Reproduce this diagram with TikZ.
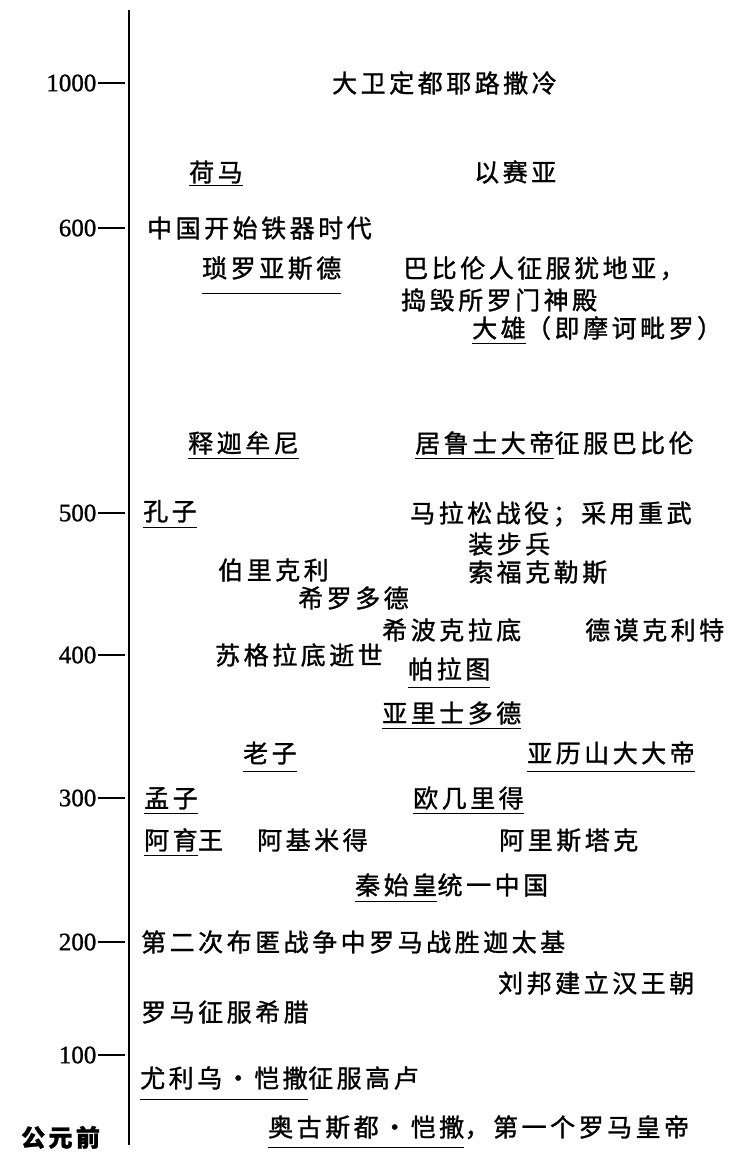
\documentclass[tikz,border=0pt]{standalone}
\usepackage{fontspec}
\newfontfamily\cjk[LetterSpace=14, FakeBold=1.2]{Noto Sans CJK SC}
\newfontfamily\yrfont[FakeBold=1]{Liberation Serif}
\usetikzlibrary{positioning}
\begin{document}
\begin{tikzpicture}[x=1pt, y=-1pt,
		ev/.style={anchor=west, inner sep=0pt, text height=21pt, text depth=2pt, font=\cjk\fontsize{25}{28}\selectfont},
		yr/.style={left, inner sep=1pt, font=\yrfont\fontsize{25}{28}\selectfont},
		ul/.style={line width=1.4pt}]
		\useasboundingbox (0,0) rectangle (731,1152);

		%axis
		\coordinate (axtop) at (129,10);
		\coordinate (axbot) at (129,1145);
		\draw[line width=1.1pt] (axtop) -- (axbot);

		\draw[line width=1.3pt] (125,83) -- (98,83) node[yr] (y1000) {1000};
		\draw[line width=1.3pt] (125,228) -- (98,228) node[yr] (y600) {600};
		\draw[line width=1.3pt] (125,513) -- (98,513) node[yr] (y500) {500};
		\draw[line width=1.3pt] (125,655) -- (98,655) node[yr] (y400) {400};
		\draw[line width=1.3pt] (125,798) -- (98,798) node[yr] (y300) {300};
		\draw[line width=1.3pt] (125,942) -- (98,942) node[yr] (y200) {200};
		\draw[line width=1.3pt] (125,1055) -- (98,1055) node[yr] (y100) {100};
		\node[ev, font=\cjk\bfseries\fontsize{24}{27}\selectfont] (bc) at (21,1137) {公元前};

		%events
		\node[ev] (david) at (332,83) {大卫定都耶路撒冷};
		\node[ev] (homer) at (189,172) {荷马};
		\node[ev] (isaiah) at (474,172) {以赛亚};
		\node[ev] (ironage) at (147,228) {中国开始铁器时代};
		\node[ev] (zoroaster) at (202,268) {琐罗亚斯德};
		\node[ev] (babylon) at (403,268) {巴比伦人征服犹地亚，};
		\node[ev] (babylon2) at (401,300) {捣毁所罗门神殿};
		\node[ev] (mahavira) at (472,328) {大雄};
		\node[ev, right=0pt of mahavira] (mahavira2) {（即摩诃毗罗）};

		\node[ev] (buddha) at (188,443) {释迦牟尼};
		\node[ev] (cyrus) at (415,443) {居鲁士大帝};
		\node[ev, right=0pt of cyrus] (cyrus2) {征服巴比伦};

		\node[ev] (confucius) at (143,511) {孔子};
		\node[ev] (marathon) at (410,513) {马拉松战役；采用重武};
		\node[ev] (marathon2) at (468,544) {装步兵};
		\node[ev] (pericles) at (218,570) {伯里克利};
		\node[ev] (sophocles) at (468,572) {索福克勒斯};
		\node[ev] (herodotus) at (298,598) {希罗多德};
		\node[ev] (hippocrates) at (382,630) {希波克拉底};
		\node[ev] (democritus) at (585,630) {德谟克利特};
		\node[ev] (socrates) at (215,655) {苏格拉底逝世};
		\node[ev] (plato) at (408,669) {帕拉图};
		\node[ev] (aristotle) at (382,713) {亚里士多德};
		\node[ev] (laozi) at (243,753) {老子};
		\node[ev] (alexander) at (527,753) {亚历山大大帝};

		\node[ev] (mencius) at (144,798) {孟子};
		\node[ev] (euclid) at (413,798) {欧几里得};
		\node[ev] (ashoka) at (144,840) {阿育};
		\node[ev, right=0pt of ashoka] (ashoka2) {王};
		\node[ev] (archimedes) at (257,840) {阿基米得};
		\node[ev] (aristarchus) at (499,840) {阿里斯塔克};
		\node[ev] (qin) at (355,885) {秦始皇};
		\node[ev, right=0pt of qin] (qin2) {统一中国};

		\node[ev] (punic) at (141,942) {第二次布匿战争中罗马战胜迦太基};
		\node[ev] (liubang) at (498,983) {刘邦建立汉王朝};
		\node[ev] (greece) at (141,1012) {罗马征服希腊};
		\node[ev] (caesar) at (140,1078) {尤利乌・恺撒};
		\node[ev, right=0pt of caesar] (caesar2) {征服高卢};
		\node[ev] (augustus) at (268,1127) {奥古斯都・恺撒};
		\node[ev, right=0pt of augustus] (augustus2) {，第一个罗马皇帝};

		%underlines
		\draw[ul] ([yshift=-2pt]homer.south west) -- ([yshift=-2pt]homer.south east);
		\draw[ul] ([yshift=-14pt]zoroaster.south west) -- ([yshift=-14pt]zoroaster.south east);
		\draw[ul] ([yshift=-4pt]mahavira.south west) -- ([yshift=-4pt]mahavira.south east);
		\draw[ul] ([yshift=-4pt]buddha.south west) -- ([yshift=-4pt]buddha.south east);
		\draw[ul] ([yshift=-4pt]cyrus.south west) -- ([yshift=-4pt]cyrus.south east);
		\draw[ul] ([yshift=-5pt]confucius.south west) -- ([yshift=-5pt]confucius.south east);
		\draw[ul] ([yshift=-7pt]plato.south west) -- ([yshift=-7pt]plato.south east);
		\draw[ul] ([yshift=-4pt]aristotle.south west) -- ([yshift=-4pt]aristotle.south east);
		\draw[ul] ([yshift=-7pt]laozi.south west) -- ([yshift=-7pt]laozi.south east);
		\draw[ul] ([yshift=-7pt]alexander.south west) -- ([yshift=-7pt]alexander.south east);
		\draw[ul] ([yshift=-4pt]mencius.south west) -- ([yshift=-4pt]mencius.south east);
		\draw[ul] ([yshift=-4pt]euclid.south west) -- ([yshift=-4pt]euclid.south east);
		\draw[ul] ([yshift=-4pt]ashoka.south west) -- ([yshift=-4pt]ashoka.south east);
		\draw[ul] ([yshift=-5pt]qin.south west) -- ([yshift=-5pt]qin.south east);
		\draw[ul] ([yshift=-10pt]caesar.south west) -- ([yshift=-10pt]caesar.south east);
		\draw[ul] ([yshift=-9pt]augustus.south west) -- ([yshift=-9pt]augustus.south east);

	\end{tikzpicture}
\end{document}
